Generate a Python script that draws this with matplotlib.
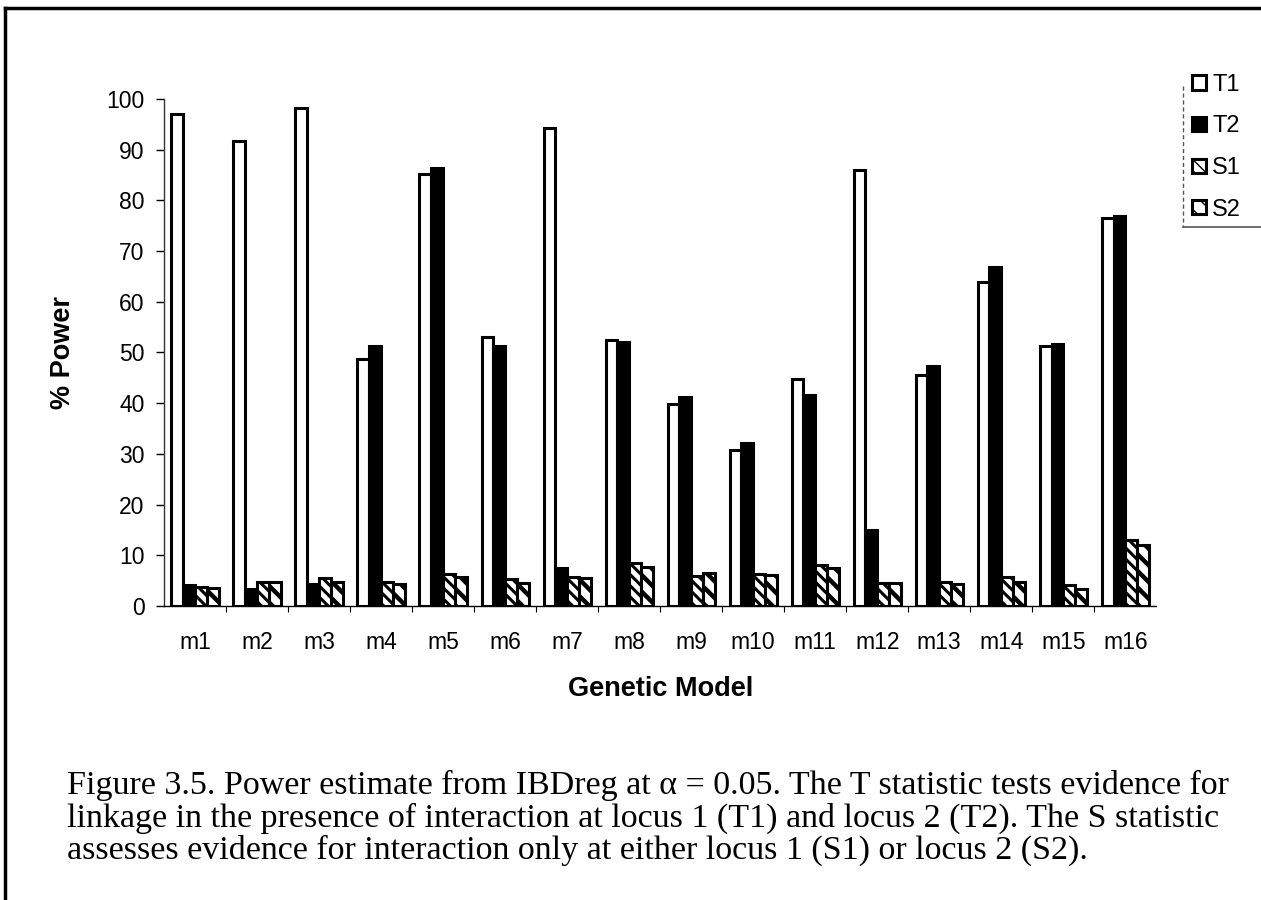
import numpy as np
import matplotlib.pyplot as plt
from matplotlib.lines import Line2D

models = ["m1", "m2", "m3", "m4", "m5", "m6", "m7", "m8",
          "m9", "m10", "m11", "m12", "m13", "m14", "m15", "m16"]
t1 = [97.0, 91.7, 98.3, 48.8, 85.3, 53.0, 94.3, 52.5,
      39.8, 30.7, 44.8, 86.0, 45.5, 64.0, 51.2, 76.6]
t2 = [4.2, 3.3, 4.3, 51.3, 86.3, 51.3, 7.5, 52.0,
      41.2, 32.2, 41.7, 15.0, 47.3, 66.8, 51.6, 77.0]
s1 = [3.8, 4.8, 5.5, 4.8, 6.3, 5.3, 5.8, 8.5,
      6.0, 6.3, 8.0, 4.5, 4.8, 5.8, 4.2, 13.0]
s2 = [3.5, 4.7, 4.7, 4.3, 5.8, 4.5, 5.5, 7.7,
      6.5, 6.2, 7.5, 4.5, 4.3, 4.7, 3.3, 12.0]

plt.rcParams["font.family"] = ["Liberation Sans", "DejaVu Sans"]

fig = plt.figure(figsize=(12.61, 9), dpi=100)
ax = fig.add_axes([0.130, 0.3267, 0.787, 0.5633])

x = np.arange(len(models))
w = 0.19
series = [("T1", t1, "white", None, 1.0),
          ("T2", t2, "black", None, 1.0),
          ("S1", s1, "white", "\\\\\\", 2.2),
          ("S2", s2, "white", "\\\\", 3.2)]
handles = []
for i, (name, vals, fc, hatch, hlw) in enumerate(series):
    with plt.rc_context({"hatch.linewidth": hlw}):
        b = ax.bar(x + (i - 1.5) * w, vals, width=w, facecolor=fc,
                   edgecolor="black", linewidth=2.2, hatch=hatch, label=name)
    handles.append(b)

ax.set_xlim(-0.5, len(models) - 0.5)
ax.set_ylim(0, 100)
ax.set_yticks(np.arange(0, 101, 10))
ax.set_xticks(x)
ax.set_xticklabels(models)
ax.set_xticks(np.arange(0.5, len(models) - 1, 1), minor=True)
ax.tick_params(axis="x", which="major", length=0, labelsize=16.5, pad=18)
ax.tick_params(axis="x", which="minor", length=4, direction="out", width=0.8)
ax.tick_params(axis="y", labelsize=16.5, length=6, direction="out", width=1, pad=8)
for s in ["top", "right"]:
    ax.spines[s].set_visible(False)
ax.spines["left"].set_linewidth(1.0)
ax.spines["left"].set_color("#333333")
ax.spines["bottom"].set_linewidth(1.0)
ax.spines["bottom"].set_linestyle((0, (4, 1)))

ax.set_ylabel("% Power", fontsize=19.5, fontweight="bold", labelpad=22)
ax.set_xlabel("Genetic Model", fontsize=19.5, fontweight="bold", labelpad=16)

fig.legend(handles=handles, labels=["T1", "T2", "S1", "S2"],
           loc="upper left", bbox_to_anchor=(0.9453, 0.918),
           fontsize=17, frameon=False,
           handlelength=0.6, handleheight=0.55, handletextpad=0.25,
           labelspacing=0.83, borderpad=0.0, borderaxespad=0.0)

# legend box edges (left and bottom only)
fig.add_artist(Line2D([0.938, 0.938], [0.905, 0.748], color="#555555", lw=1.0,
                      linestyle=(0, (3, 2)), transform=fig.transFigure))
fig.add_artist(Line2D([0.938, 1.0], [0.748, 0.748], color="#555555", lw=1.2,
                      transform=fig.transFigure))

# outer frame of the figure box
fig.add_artist(Line2D([0.004, 0.004], [0.0, 0.991], color="black", lw=2.5,
                      transform=fig.transFigure))
fig.add_artist(Line2D([0.004, 1.0], [0.991, 0.991], color="black", lw=2.5,
                      transform=fig.transFigure))

caption = ("Figure 3.5. Power estimate from IBDreg at \u03b1 = 0.05. The T statistic tests evidence for\n"
           "linkage in the presence of interaction at locus 1 (T1) and locus 2 (T2). The S statistic\n"
           "assesses evidence for interaction only at either locus 1 (S1) or locus 2 (S2).")
fig.text(0.053, 0.144, caption, family=["Liberation Serif", "DejaVu Serif"],
         fontsize=24.5, linespacing=1.05, ha="left", va="top")

fig.savefig("out.png", dpi=100)
